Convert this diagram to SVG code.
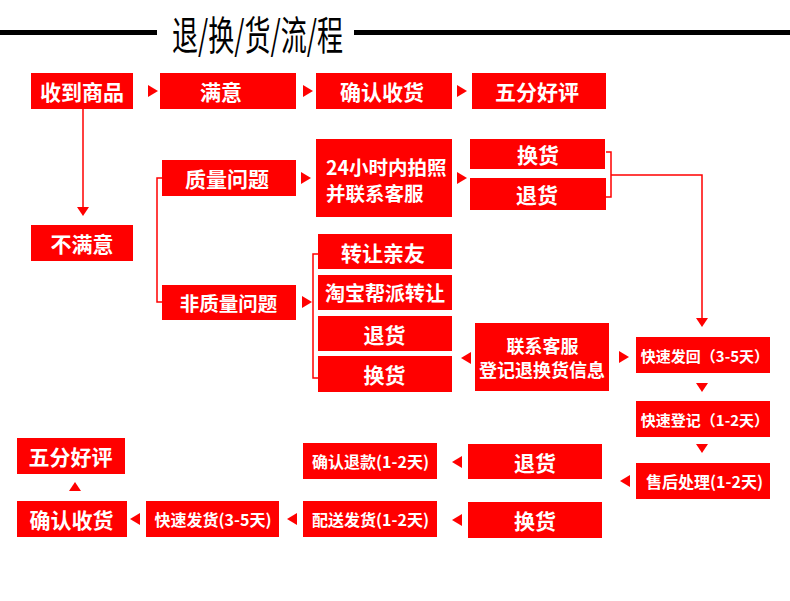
<svg xmlns="http://www.w3.org/2000/svg" xmlns:xlink="http://www.w3.org/1999/xlink" width="790" height="601" viewBox="0 0 790 601">
<style>
.b{fill:#ff0000}
.t{fill:#fff;font-family:"Noto Sans CJK SC","Noto Sans",sans-serif;font-weight:700;text-anchor:middle;dominant-baseline:central}
.l{font-size:21px}
.m{font-size:18px}
.s{font-size:16px}
.xs{font-size:15px}
.c{fill:none;stroke:#ff0000;stroke-width:1.5}
.a{fill:#ff0000}
</style>
<defs>
<path id="ar" d="M0,-6 L10,0 L0,6 Z"/>
<path id="al" d="M0,-6 L-10,0 L0,6 Z"/>
<path id="ad" d="M-6,0 L0,9 L6,0 Z"/>
<path id="au" d="M-6,0 L0,-9 L6,0 Z"/>
</defs>
<rect width="790" height="601" fill="#fff"/>
<g id="title">
<rect x="0" y="30" width="157" height="5" fill="#000"/>
<rect x="354" y="30" width="436" height="5" fill="#000"/>
<text x="257.5" y="32.5" font-family="'Noto Sans CJK SC',sans-serif" font-size="40" fill="#000" text-anchor="middle" dominant-baseline="central" textLength="171" lengthAdjust="spacingAndGlyphs">退/换/货/流/程</text>
</g>
<g id="connectors">
<path class="c" d="M83,109 V207"/>
<path class="c" d="M162,178 H157 V302 H162"/>
<path class="c" d="M318,254 H313 V378 H318"/>
<path class="c" d="M606,152 H611 V197 H606"/>
<path class="c" d="M611,175 H702 V318"/>
<use href="#ar" class="a" x="148" y="91"/>
<use href="#ar" class="a" x="303" y="91"/>
<use href="#ar" class="a" x="457" y="91"/>
<use href="#ad" class="a" x="83" y="207"/>
<use href="#ar" class="a" x="301" y="178"/>
<use href="#ar" class="a" x="457" y="178"/>
<use href="#ar" class="a" x="302" y="302"/>
<use href="#ad" class="a" x="702" y="318"/>
<use href="#al" class="a" x="471" y="358"/>
<use href="#ar" class="a" x="619" y="357"/>
<use href="#ad" class="a" x="702" y="383"/>
<use href="#ad" class="a" x="702" y="444"/>
<use href="#al" class="a" x="630" y="481"/>
<use href="#al" class="a" x="462" y="462"/>
<use href="#al" class="a" x="462" y="520"/>
<use href="#al" class="a" x="297" y="519"/>
<use href="#al" class="a" x="140" y="519"/>
<use href="#au" class="a" x="75" y="491"/>
</g>
<g id="n1"><rect class="b" x="31" y="73" width="102" height="36"/><text class="t l" x="82" y="91">收到商品</text></g>
<g id="n2"><rect class="b" x="160" y="73" width="136" height="36"/><text class="t l" x="221" y="91">满意</text></g>
<g id="n3"><rect class="b" x="316" y="73" width="136" height="36"/><text class="t l" x="382" y="91">确认收货</text></g>
<g id="n4"><rect class="b" x="472" y="73" width="134" height="36"/><text class="t l" x="537" y="91">五分好评</text></g>
<g id="n5"><rect class="b" x="31" y="225" width="102" height="36"/><text class="t l" x="82" y="243">不满意</text></g>
<g id="n6"><rect class="b" x="162" y="160" width="134" height="36"/><text class="t l" x="227" y="178">质量问题</text></g>
<g id="n7"><rect class="b" x="316" y="139" width="136" height="78"/><text class="t" style="text-anchor:start;font-size:19.5px" x="326" y="166.5">24小时内拍照</text><text class="t" style="text-anchor:start;font-size:19.5px" x="326" y="192">并联系客服</text></g>
<g id="n8"><rect class="b" x="470" y="139" width="135" height="30"/><text class="t l" x="538" y="154">换货</text></g>
<g id="n9"><rect class="b" x="470" y="178" width="136" height="32"/><text class="t l" x="537" y="194">退货</text></g>
<g id="n10"><rect class="b" x="162" y="285" width="134" height="35"/><text class="t" style="font-size:19.5px" x="228.5" y="302.5">非质量问题</text></g>
<g id="n11"><rect class="b" x="318" y="234" width="134" height="35"/><text class="t l" x="383" y="251.5">转让亲友</text></g>
<g id="n12"><rect class="b" x="318" y="275" width="134" height="35"/><text class="t" style="font-size:20px" x="385" y="292.5">淘宝帮派转让</text></g>
<g id="n13"><rect class="b" x="318" y="316" width="134" height="35"/><text class="t l" x="384.5" y="333.5">退货</text></g>
<g id="n14"><rect class="b" x="318" y="356" width="134" height="36"/><text class="t l" x="384.5" y="374">换货</text></g>
<g id="n15"><rect class="b" x="475" y="323" width="134" height="68"/><text class="t m" x="542.5" y="344.5">联系客服</text><text class="t m" x="542" y="368.5">登记退换货信息</text></g>
<g id="n16"><rect class="b" x="636" y="337" width="134" height="36"/><text class="t xs" x="705" y="355">快速发回（3-5天）</text></g>
<g id="n17"><rect class="b" x="636" y="401" width="134" height="36"/><text class="t xs" x="705" y="419">快速登记（1-2天）</text></g>
<g id="n18"><rect class="b" x="636" y="463" width="134" height="36"/><text class="t s" x="704.5" y="481">售后处理(1-2天)</text></g>
<g id="n19"><rect class="b" x="468" y="444" width="134" height="35"/><text class="t l" x="535" y="461.5">退货</text></g>
<g id="n20"><rect class="b" x="468" y="502" width="134" height="36"/><text class="t l" x="535" y="520">换货</text></g>
<g id="n21"><rect class="b" x="303" y="443" width="134" height="36"/><text class="t s" x="370.5" y="461">确认退款(1-2天)</text></g>
<g id="n22"><rect class="b" x="303" y="501" width="134" height="36"/><text class="t s" x="370.5" y="519">配送发货(1-2天)</text></g>
<g id="n23"><rect class="b" x="146" y="501" width="133" height="36"/><text class="t s" x="213" y="519">快速发货(3-5天)</text></g>
<g id="n24"><rect class="b" x="17" y="501" width="110" height="36"/><text class="t l" x="71.5" y="519">确认收货</text></g>
<g id="n25"><rect class="b" x="17" y="438" width="108" height="36"/><text class="t l" x="70.5" y="456">五分好评</text></g>
</svg>
